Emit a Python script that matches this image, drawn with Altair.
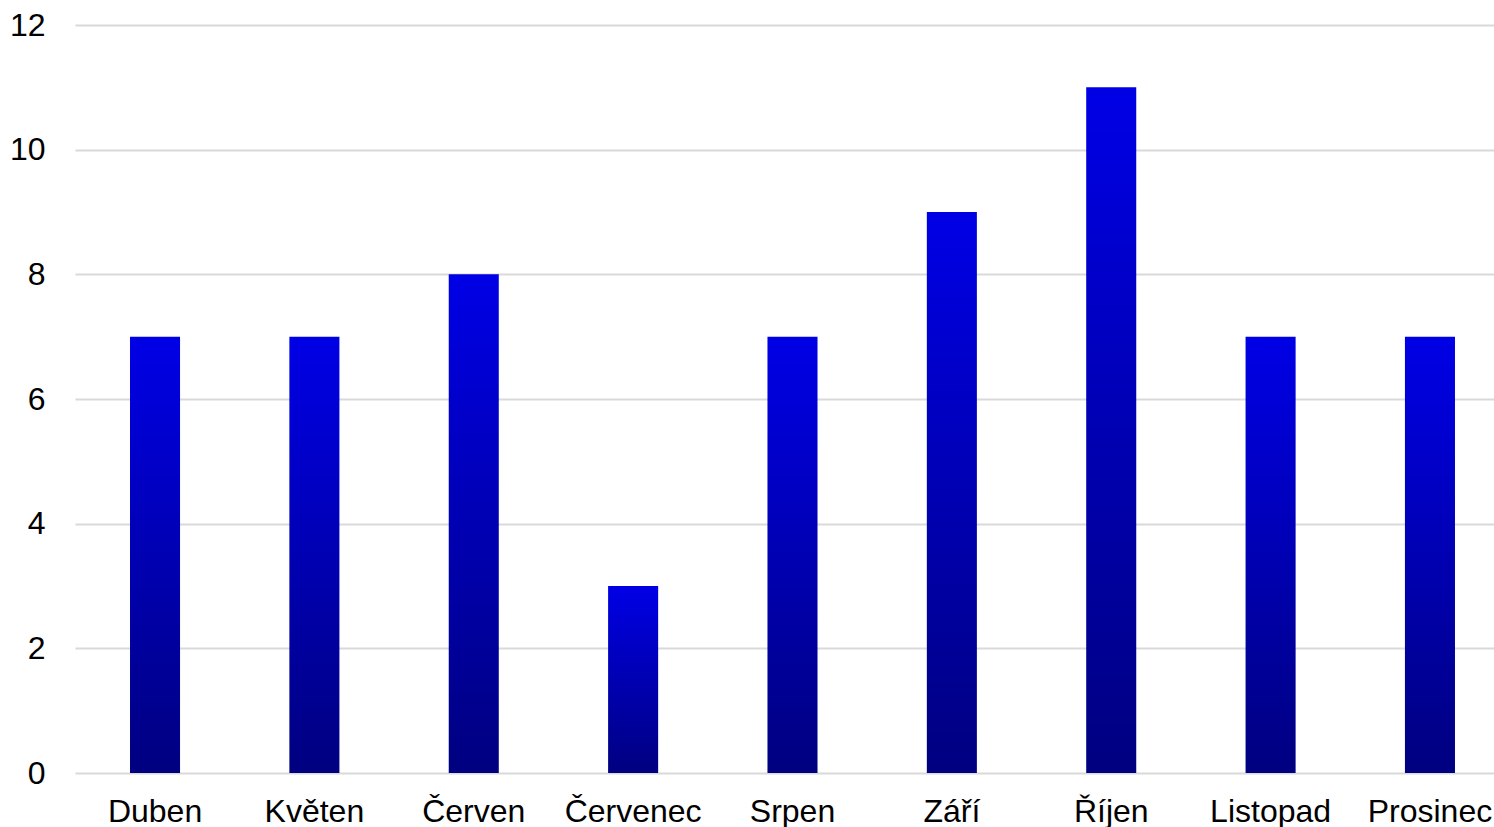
import altair as alt
import pandas as pd

months = ["Duben", "Květen", "Červen", "Červenec", "Srpen", "Září", "Říjen", "Listopad", "Prosinec"]
values = [7, 7, 8, 3, 7, 9, 11, 7, 7]
y_ticks = [0, 2, 4, 6, 8, 10, 12]

df = pd.DataFrame({"month": months, "value": values})

grad = alt.Gradient(
    gradient="linear",
    stops=[alt.GradientStop(color="#0000e6", offset=0),
           alt.GradientStop(color="#000080", offset=1)],
    x1=0, x2=0, y1=0, y2=1,
)

chart = alt.Chart(df).mark_bar(fill=grad).encode(
    x=alt.X("month:N", sort=months, title=None,
            scale=alt.Scale(paddingInner=0.686, paddingOuter=0.295, align=0.585),
            axis=alt.Axis(labelAngle=0, labelFontSize=32, labelFont="Liberation Sans",
                          labelColor="#000000", domain=False, ticks=False,
                          labelPadding=23, grid=False)),
    y=alt.Y("value:Q", title=None,
            scale=alt.Scale(domain=[0, 12], nice=False),
            axis=alt.Axis(values=y_ticks, labelFontSize=32, labelFont="Liberation Sans",
                          labelColor="#000000", domain=False, ticks=False,
                          labelPadding=30, gridColor="#d9d9d9", gridWidth=2)),
).properties(
    width=1419, height=748,
    autosize=alt.AutoSizeParams(type="none"),
    padding={"left": 75, "top": 25, "right": 0, "bottom": 54},
).configure_view(stroke=None)

chart.save("out.html", embed_options={"renderer": "svg", "actions": False})
